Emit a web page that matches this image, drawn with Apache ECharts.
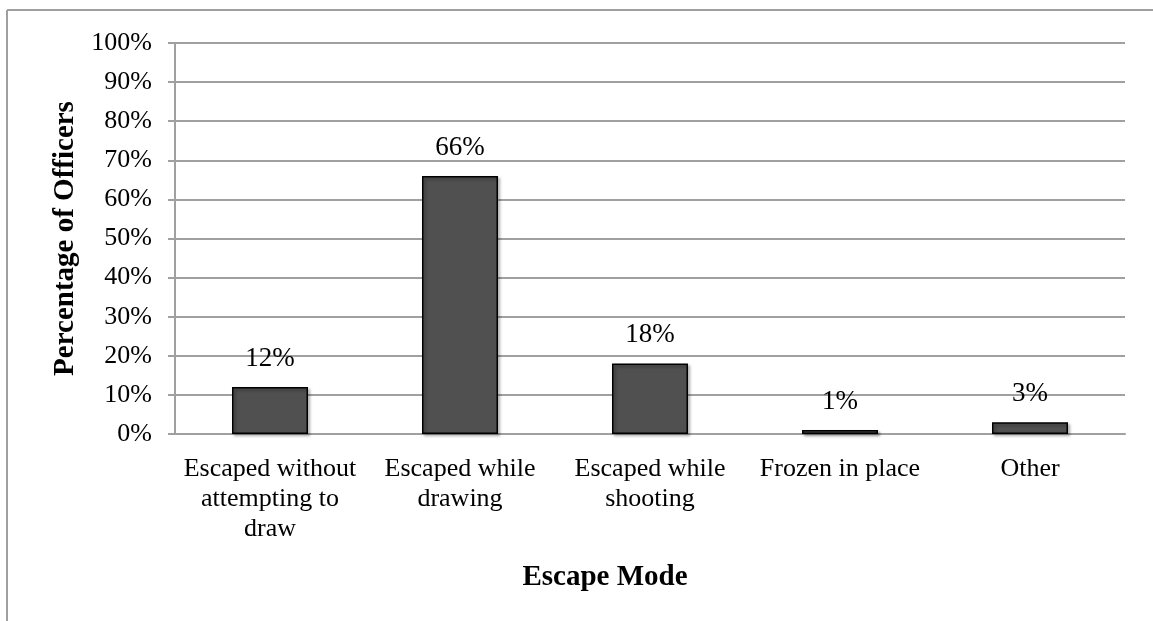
<!DOCTYPE html>
<html>
<head>
<meta charset="utf-8">
<script src="https://cdn.jsdelivr.net/npm/echarts@6/dist/echarts.min.js"></script>
<style>
  html, body { margin: 0; padding: 0; background: #fff; }
  #main { width: 1153px; height: 621px; }
</style>
</head>
<body>
<div id="main"></div>
<script>
// data
var categories = ['Escaped without\nattempting to\ndraw', 'Escaped while\ndrawing', 'Escaped while\nshooting', 'Frozen in place', 'Other'];
var percents = [12, 66, 18, 1, 3];
var yTicks = { min: 0, max: 100, step: 10 };

var serif = '"Liberation Serif", "Times New Roman", serif';
var gray = '#a0a0a0';

var chart = echarts.init(document.getElementById('main'));
chart.setOption({
    animation: false,
    backgroundColor: '#fff',
    grid: { left: 175, right: 28, top: 43, bottom: 187 },
    xAxis: {
        type: 'category',
        data: categories,
        axisLine: { lineStyle: { color: gray, width: 2 } },
        axisTick: { show: false },
        axisLabel: {
            color: '#000', fontFamily: serif, fontSize: 26, lineHeight: 30,
            margin: 20, interval: 0
        }
    },
    yAxis: {
        type: 'value',
        min: yTicks.min, max: yTicks.max, interval: yTicks.step,
        name: 'Percentage of Officers',
        nameLocation: 'middle',
        nameGap: 93,
        nameTextStyle: { color: '#000', fontFamily: serif, fontSize: 29, fontWeight: 'bold' },
        axisLine: { show: true, lineStyle: { color: gray, width: 2 } },
        axisTick: { show: true, length: 7, lineStyle: { color: gray, width: 2 } },
        axisLabel: { color: '#000', fontFamily: serif, fontSize: 26, margin: 23, formatter: '{value}%' },
        splitLine: { lineStyle: { color: gray, width: 2 } }
    },
    graphic: [
        { type: 'line', shape: { x1: 7, y1: 10, x2: 1153, y2: 10 }, style: { stroke: gray, lineWidth: 2 } },
        { type: 'line', shape: { x1: 7, y1: 10, x2: 7, y2: 621 }, style: { stroke: gray, lineWidth: 2 } },
        {
            type: 'text', x: 605, y: 578,
            style: {
                text: 'Escape Mode', fill: '#000', font: 'bold 29px ' + serif,
                textAlign: 'center', textVerticalAlign: 'middle'
            }
        }
    ],
    series: [{
        type: 'bar',
        data: percents,
        barWidth: '40%',
        itemStyle: {
            color: '#505050', borderColor: '#000', borderWidth: 1.5,
            shadowColor: 'rgba(0,0,0,0.35)', shadowBlur: 3, shadowOffsetX: 2, shadowOffsetY: 2
        },
        label: {
            show: true, position: 'top', distance: 15,
            color: '#000', fontFamily: serif, fontSize: 27,
            formatter: '{c}%'
        }
    }]
});
</script>
</body>
</html>
